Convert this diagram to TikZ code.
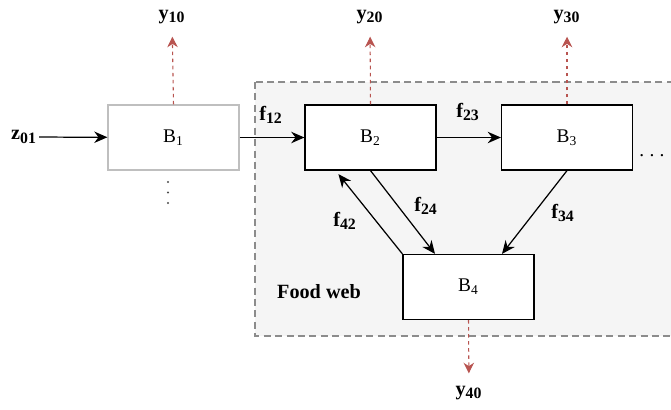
\documentclass[tikz,border=0pt]{standalone}
\usepackage{fontspec}
\setmainfont{Liberation Serif}
\usetikzlibrary{arrows.meta}
\usetikzlibrary{positioning}

\definecolor{lossred}{HTML}{B85450}
\definecolor{webfill}{HTML}{F5F5F5}
\definecolor{webline}{HTML}{8C8C8C}

\newcommand{\lsub}[1]{\textsubscript{\fontsize{9}{9}\selectfont #1}}

\begin{document}
\begin{tikzpicture}[x=0.02cm,y=-0.02cm,line width=0.7pt,
  box/.style={draw,fill=white,minimum width=2.62cm,minimum height=1.3cm,inner sep=0pt,
    font=\fontsize{11}{13}\selectfont},
  flow/.style={-{Stealth[length=7.5pt,width=6.5pt]}},
  loss/.style={draw=lossred,dash pattern=on 2pt off 2pt,line width=0.6pt,
    -{Stealth[length=6pt,width=6pt,fill=lossred]},shorten >=6pt},
  lbl/.style={font=\fontsize{11.5}{13}\selectfont\bfseries,inner sep=1pt}]

\useasboundingbox (0,0) rectangle (671,409);

% food web area
\draw[webline,fill=webfill,dashed,dash pattern=on 4pt off 2.5pt,line width=0.8pt]
  (255,82) rectangle (690,336);
\node[lbl] (web) at (319,292) {Food web};

% boxes
\node[box,draw=black!25] (B1) at (173.5,137.5) {B\textsubscript{1}};
\node[box] (B2) at (370.5,137.5) {B\textsubscript{2}};
\node[box] (B3) at (567,137.5) {B\textsubscript{3}};
\node[box] (B4) at (468.5,287) {B\textsubscript{4}};

\foreach \dy in {182,192.5,203}
  \fill[black!70] (168,\dy) circle (1.2);
\node[box,draw=none,fill=none,minimum width=0pt,minimum height=0pt] (more3) at (652,156)
  {.\hspace{3pt}.\hspace{3pt}.};

% outputs
\node[lbl] (y10) at (172,17) {y\lsub{10}};
\node[lbl] (y20) at (370,17) {y\lsub{20}};
\node[lbl] (y30) at (567,17) {y\lsub{30}};
\node[lbl] (y40) at (469,393) {y\lsub{40}};
\draw[loss] (B1.north) -- (y10);
\draw[loss] (B2.north) -- (y20);
\draw[loss] (B3.north) -- (y30);
\draw[loss] (B4.south) -- (y40);

% inflow
\node[lbl] (z01) at (24,137) {z\lsub{01}};
\draw[flow] (z01) -- (B1);

% fluxes
\draw[flow] (B1) -- (B2);
\node[lbl] (f12) at (271,115) {f\lsub{12}};
\draw[flow] (B2) -- (B3);
\node[lbl] (f23) at (468,112) {f\lsub{23}};
\draw[flow] (B2.south) -- ([xshift=-0.67cm]B4.north);
\node[lbl] (f24) at (426,206) {f\lsub{24}};
\draw[flow] (B4.north west) -- ([xshift=0.68cm,yshift=-2pt]B2.south west);
\node[lbl] (f42) at (345,221) {f\lsub{42}};
\draw[flow] (B3.south) -- ([xshift=0.67cm]B4.north);
\node[lbl] (f34) at (563,213) {f\lsub{34}};

\end{tikzpicture}
\end{document}
